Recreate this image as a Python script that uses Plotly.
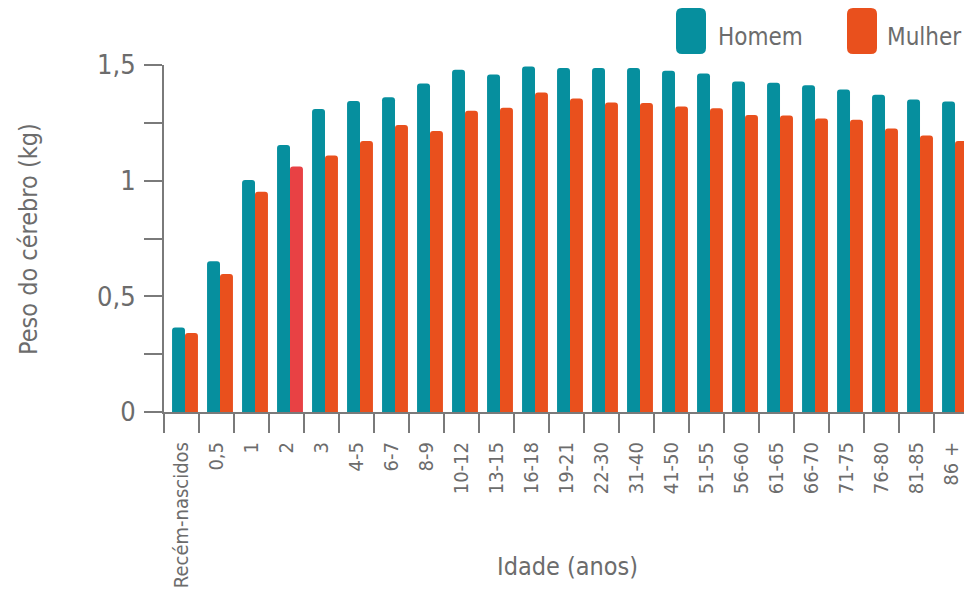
import plotly.graph_objects as go

# Brain weight by age group (kg)
idades = ["Recém-nascidos", "0,5", "1", "2", "3", "4-5", "6-7", "8-9", "10-12",
          "13-15", "16-18", "19-21", "22-30", "31-40", "41-50", "51-55", "56-60",
          "61-65", "66-70", "71-75", "76-80", "81-85", "86 +"]
homem = [0.365, 0.652, 1.003, 1.154, 1.310, 1.344, 1.361, 1.420, 1.479,
         1.459, 1.494, 1.487, 1.487, 1.487, 1.475, 1.463, 1.429,
         1.423, 1.412, 1.394, 1.371, 1.351, 1.342]
mulher = [0.341, 0.597, 0.952, 1.061, 1.109, 1.172, 1.241, 1.215, 1.302,
          1.315, 1.381, 1.355, 1.338, 1.336, 1.321, 1.313, 1.284,
          1.282, 1.269, 1.263, 1.225, 1.195, 1.172]
y_ticks = [0, 0.25, 0.5, 0.75, 1, 1.25, 1.5]
y_labels = ["0", "", "0,5", "", "1", "", "1,5"]

TEAL = "#068F9E"
ORANGE = "#E9501D"
RED = "#E84144"
GREY = "#6c6c6c"
AXIS = "#7a7a7a"
FONT = "DejaVu Sans Condensed, Liberation Sans Narrow, sans-serif"

W, H = 964, 590
ML, MR, MT, MB = 164, 0, 65, 178
PW, PH = W - ML - MR, H - MT - MB

mulher_cores = [RED if a == "2" else ORANGE for a in idades]

fig = go.Figure()
fig.add_trace(go.Bar(x=idades, y=homem, marker_color=TEAL, marker_line_width=0,
                     offset=-0.27, width=0.37, name="Homem"))
fig.add_trace(go.Bar(x=idades, y=mulher, marker_color=mulher_cores, marker_line_width=0,
                     offset=0.10, width=0.37, name="Mulher"))


def px_to_paper(x, y):
    return (x - ML) / PW, (H - MB - y) / PH


def rounded_rect(x0, y0, x1, y1, r):
    """Rounded rectangle path given in pixel coordinates, emitted in paper units."""
    def p(x, y):
        a, b = px_to_paper(x, y)
        return f"{a:.5f},{b:.5f}"
    return (f"M {p(x0 + r, y0)} L {p(x1 - r, y0)} Q {p(x1, y0)} {p(x1, y0 + r)} "
            f"L {p(x1, y1 - r)} Q {p(x1, y1)} {p(x1 - r, y1)} "
            f"L {p(x0 + r, y1)} Q {p(x0, y1)} {p(x0, y1 - r)} "
            f"L {p(x0, y0 + r)} Q {p(x0, y0)} {p(x0 + r, y0)} Z")


shapes = []
annotations = []
for (bx0, bx1, tx, label, color) in [(676, 706, 716, "Homem", TEAL),
                                     (847, 877, 885, "Mulher", ORANGE)]:
    shapes.append(dict(type="path", xref="paper", yref="paper",
                       path=rounded_rect(bx0, 8, bx1, 54, 6),
                       fillcolor=color, line_width=0, layer="above"))
    ax, ay = px_to_paper(tx, 37)
    annotations.append(dict(x=ax, y=ay, xref="paper", yref="paper", text=label,
                            showarrow=False, xanchor="left", yanchor="middle",
                            font=dict(family=FONT, size=24, color=GREY)))

# Axis titles
tx, ty = px_to_paper(28, 239)
annotations.append(dict(x=tx, y=ty, xref="paper", yref="paper",
                        text="Peso do cérebro (kg)", textangle=-90, showarrow=False,
                        xanchor="center", yanchor="middle",
                        font=dict(family=FONT, size=25, color=GREY)))
tx, ty = px_to_paper(567, 566)
annotations.append(dict(x=tx, y=ty, xref="paper", yref="paper",
                        text="Idade (anos)", showarrow=False,
                        xanchor="center", yanchor="middle",
                        font=dict(family=FONT, size=25, color=GREY)))

fig.update_layout(
    width=W, height=H,
    margin=dict(l=ML, r=MR, t=MT, b=MB, pad=0, autoexpand=False),
    paper_bgcolor="white", plot_bgcolor="white",
    showlegend=False, barmode="group", barcornerradius=3,
    shapes=shapes, annotations=annotations,
    xaxis=dict(type="category", range=[-0.5, 22.5 - 5 / 34.95], automargin=False,
               tickson="boundaries", ticks="outside", ticklen=19, tickwidth=2,
               tickcolor=AXIS, showline=True, linecolor=AXIS, linewidth=2,
               tickangle=-90, showgrid=False, zeroline=False,
               tickfont=dict(family=FONT, size=20, color=GREY),
               ticklabelstandoff=20),
    yaxis=dict(range=[0, 1.5], tickvals=y_ticks, ticktext=y_labels, automargin=False,
               ticks="outside", ticklen=18, tickwidth=2, tickcolor=AXIS,
               showline=True, linecolor=AXIS, linewidth=2,
               showgrid=False, zeroline=False,
               tickfont=dict(family=FONT, size=27, color=GREY),
               ticklabelstandoff=3),
)

fig.write_html("out.html")
